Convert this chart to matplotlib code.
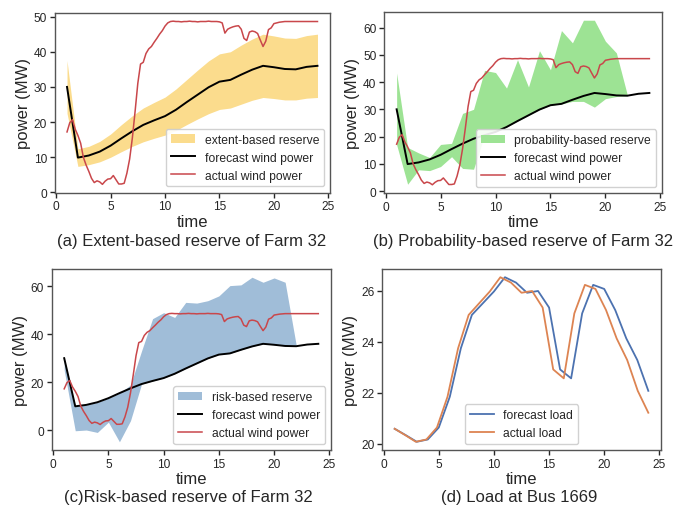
import numpy as np
import matplotlib
matplotlib.use("Agg")
import matplotlib.pyplot as plt

# ---------------- data ----------------
hours = list(range(1, 25))
forecast_wind = [30.0, 9.9, 10.5, 11.6, 13.3, 15.4, 17.4, 19.2, 20.5, 21.7, 23.5, 25.7,
                 27.8, 29.9, 31.5, 32.0, 33.5, 34.9, 36.0, 35.6, 35.1, 35.0, 35.7, 36.0]

extent_upper = [37.5, 12.4, 13.1, 14.5, 16.6, 19.3, 21.8, 24.0, 25.6, 27.1, 29.4, 32.1,
                34.8, 37.4, 39.4, 40.0, 41.9, 43.6, 45.0, 44.5, 43.9, 43.8, 44.6, 45.0]
extent_lower = [22.5, 7.4, 7.9, 8.7, 10.0, 11.6, 13.1, 14.4, 15.4, 16.3, 17.6, 19.3,
                20.9, 22.4, 23.6, 24.0, 25.1, 26.2, 27.0, 26.7, 26.3, 26.3, 26.8, 27.0]

band_hours = list(range(1, 23))
prob_upper = [43.3, 16.0, 14.0, 12.3, 17.1, 17.5, 28.5, 30.0, 44.3, 43.5, 37.8, 48.2,
              38.2, 51.5, 44.5, 58.9, 54.4, 62.7, 62.7, 55.0, 50.7, 35.2]
prob_lower = [17.0, 2.5, 7.8, 7.5, 9.0, 12.6, 8.3, 8.0, 20.5, 21.7, 23.5, 25.7,
              27.8, 29.9, 31.5, 32.0, 32.9, 32.9, 30.8, 33.9, 34.7, 35.0]

risk_upper = [30.0, 9.9, 10.5, 11.6, 13.3, 15.4, 18.8, 33.0, 46.5, 49.0, 47.0, 53.3,
              53.0, 54.0, 56.0, 60.3, 60.6, 63.8, 61.7, 63.5, 61.7, 35.5]
risk_lower = [25.0, -0.3, 0.0, -1.0, 3.3, -4.9, 3.9, 19.2, 20.5, 21.7, 23.5, 25.7,
              27.8, 29.9, 31.5, 32.0, 33.5, 34.9, 36.0, 35.6, 35.1, 35.0]

actual_time = np.arange(1.0, 24.01, 0.25)
actual_wind = [17.2, 19.8, 20.7, 18.0, 16.2, 14.0, 10.0, 7.8, 6.0, 4.0, 2.8, 3.3,
               3.0, 2.3, 3.2, 3.8, 3.9, 4.8, 3.6, 2.4, 2.4, 2.6, 5.5, 9.5,
               15.5, 23.0, 31.0, 36.5, 37.0, 39.5, 40.8, 41.5, 42.7, 43.8, 45.0, 46.0,
               47.3, 48.2, 48.6, 48.7, 48.6, 48.6, 48.5, 48.6, 48.6, 48.7, 48.6, 48.6,
               48.5, 48.6, 48.6, 48.6, 48.7, 48.6, 48.6, 48.6, 48.5, 48.2, 45.3, 46.4,
               46.8, 47.1, 47.3, 47.4, 46.4, 43.8, 43.2, 45.6, 45.9, 45.7, 45.2, 43.3,
               41.5, 43.0, 46.3, 46.8, 48.0, 48.2, 48.4, 48.5, 48.6, 48.6, 48.6, 48.6,
               48.6, 48.6, 48.6, 48.6, 48.6, 48.6, 48.6, 48.6, 48.6]

forecast_load = [20.59, 20.34, 20.08, 20.17, 20.64, 21.85, 23.75, 25.06, 25.52, 25.98,
                 26.54, 26.33, 25.93, 26.00, 25.35, 22.92, 22.57, 25.12, 26.24, 26.08,
                 25.25, 24.14, 23.29, 22.08]
actual_load_time = np.linspace(1, 24, 25)
actual_load = [20.59, 20.34, 20.08, 20.17, 20.64, 21.85, 23.75, 25.06, 25.52, 25.98,
               26.54, 26.33, 25.93, 26.00, 25.35, 22.92, 22.57, 25.12, 26.24, 26.08,
               25.25, 24.14, 23.29, 22.08, 21.22]

subtitles = ["(a) Extent-based reserve of Farm 32",
             "(b) Probability-based reserve of Farm 32",
             "(c)Risk-based reserve of Farm 32",
             "(d) Load at Bus 1669"]

# ---------------- style ----------------
plt.rcParams['font.family'] = ['Liberation Sans', 'DejaVu Sans']
plt.rcParams['text.color'] = '#262626'
plt.rcParams['axes.labelcolor'] = '#262626'
plt.rcParams['xtick.color'] = '#262626'
plt.rcParams['ytick.color'] = '#262626'
plt.rcParams['axes.edgecolor'] = '#444444'
plt.rcParams['axes.linewidth'] = 1.0

fig = plt.figure(figsize=(6.73, 5.10), dpi=100)
W, H = 673.0, 510.0
boxes = [(54.5, 14, 330, 193.5), (384, 13, 662, 194),
         (51.5, 270, 331, 451), (382, 270, 661, 451)]
axes = []
for (l, t, r, b) in boxes:
    ax = fig.add_axes([l / W, 1 - b / H, (r - l) / W, (b - t) / H])
    axes.append(ax)

RED = '#C9474B'
fills = [('#FBDC8D', extent_upper, extent_lower, 'extent-based reserve', hours),
         ('#9DE394', prob_upper, prob_lower, 'probability-based reserve', band_hours),
         ('#A0BDD8', risk_upper, risk_lower, 'risk-based reserve', band_hours)]

for ax, (col, up, lo, lab, hh) in zip(axes[:3], fills):
    ax.fill_between(hh, lo, up, color=col, linewidth=0, label=lab)
    ax.plot(hours, forecast_wind, color='black', lw=1.4, label='forecast wind power')
    ax.plot(actual_time, actual_wind, color=RED, lw=1.1, label='actual wind power')
    ax.legend(loc='lower right', fontsize=8.7, frameon=True, fancybox=True,
              edgecolor='#cccccc', framealpha=0.9, handlelength=2.0)

axd = axes[3]
axd.plot(hours, forecast_load, color='#4C72B0', lw=1.3, label='forecast load')
axd.plot(actual_load_time, actual_load, color='#DD8452', lw=1.3, label='actual load')
axd.legend(loc='lower center', fontsize=8.7, frameon=True, fancybox=True,
           edgecolor='#cccccc', framealpha=0.9)
axd.set_yticks([20, 22, 24, 26])

axes[0].set_yticks([0, 10, 20, 30, 40, 50])
axes[1].set_yticks([0, 10, 20, 30, 40, 50, 60])
axes[2].set_yticks([0, 20, 40, 60])

for ax in axes:
    ax.set_xticks([0, 5, 10, 15, 20, 25])
    ax.tick_params(axis='both', labelsize=8.6, length=3.5, width=1, direction='out',
                   pad=2, colors='#262626')
    ax.set_xlabel('time', fontsize=12, labelpad=1)
    ax.set_ylabel('power (MW)', fontsize=12, labelpad=2)
    for s in ax.spines.values():
        s.set_color('#555555')

sub_pos = [(191.5, 241.5), (523, 241.5), (188.5, 497.5), (519.5, 497.5)]
for (x, y), txt in zip(sub_pos, subtitles):
    fig.text(x / W, 1 - y / H, txt, ha='center', va='center', fontsize=12,
             color='#262626')

fig.savefig('out.png', dpi=100)
